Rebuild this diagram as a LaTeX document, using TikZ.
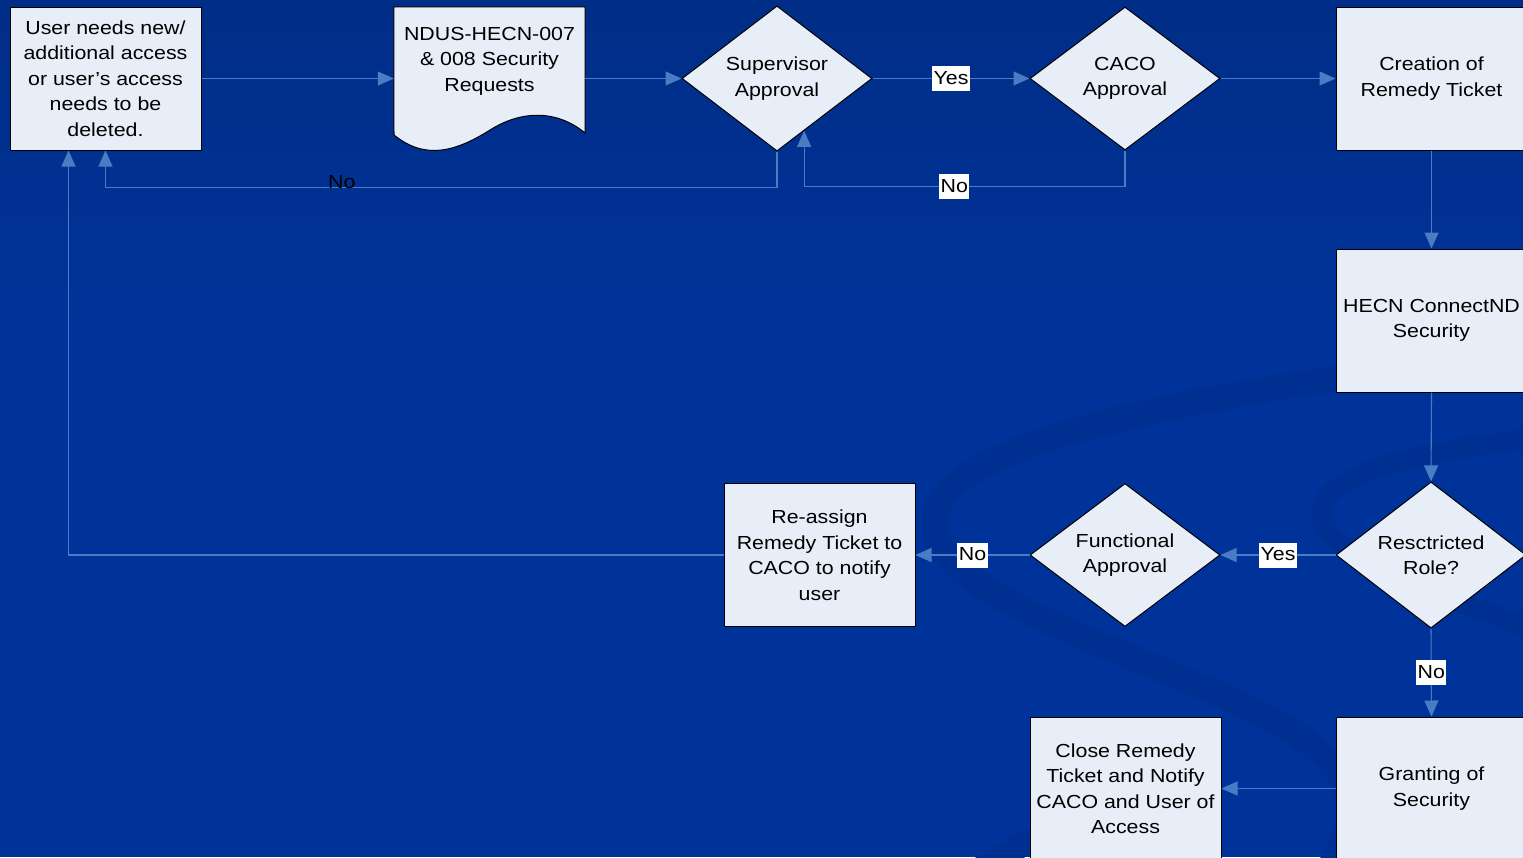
\documentclass[tikz,border=0pt]{standalone}
\usepackage{fontspec}
\setmainfont[FakeStretch=1.13]{Liberation Sans}
\usetikzlibrary{arrows.meta,shapes.geometric,calc}
\definecolor{bgblue}{RGB}{0,51,153}
\definecolor{bgtop}{RGB}{0,45,135}
\definecolor{swoosh}{RGB}{0,47,146}
\definecolor{boxfill}{RGB}{232,238,248}
\definecolor{linkblue}{RGB}{74,124,198}
\begin{document}
\begin{tikzpicture}[x=1pt,y=-1pt,
  every node/.style={font=\fontsize{18.9}{25.5}\selectfont},
  procbox/.style={draw=black,line width=1pt,fill=boxfill,minimum width=191pt,minimum height=143pt,inner sep=0pt,align=center},
  decision/.style={draw=black,line width=1pt,fill=boxfill,shape=diamond,minimum width=190pt,minimum height=143pt,inner sep=0pt,align=center},
  link/.style={draw=linkblue,line width=1.1pt,-{Triangle[length=16pt,width=14pt]}},
  tag/.style={fill=white,inner xsep=1.5pt,inner ysep=1pt,text height=17pt,text depth=6pt,text=black},
  plaintag/.style={inner sep=0pt,text=black},
]
\useasboundingbox (0,0) rectangle (1523,857);
\fill[bgblue] (0,0) rectangle (1523,857);
\shade[top color=bgtop,bottom color=bgblue] (0,0) rectangle (1523,330);
\clip (0,0) rectangle (1523,857);
% background swooshes
\draw[swoosh,line width=26pt] (1560,350) .. controls (1200,390) and (950,440) .. (935,515)
  .. controls (920,600) and (1150,650) .. (1290,730) .. controls (1370,780) and (1360,830) .. (1320,880);
\draw[swoosh,line width=20pt] (1560,435) .. controls (1420,450) and (1310,475) .. (1322,520)
  .. controls (1335,565) and (1460,600) .. (1560,640);
\draw[swoosh,line width=24pt] (960,880) .. controls (1050,830) and (1100,800) .. (1160,760);

% nodes
\node[procbox] (user) at (105.5,78.5) {User needs new/\\additional access\\or user’s access\\needs to be\\deleted.};
\node[minimum width=191pt,minimum height=143pt,inner sep=0pt] (doc) at (489.5,78.5) {};
\draw[fill=boxfill,line width=1pt] (doc.north west) -- (doc.north east) -- (585,133)
  .. controls (560,112) and (525,108) .. (490,130) .. controls (455,152) and (425,160) .. (394,135) -- cycle;
\node[align=center] (doctext) at (489.5,61) {NDUS-HECN-007\\\& 008 Security\\Requests};
\node[decision] (sup) at (777,78.5) {Supervisor\\Approval};
\node[decision] (caco) at (1125,78.5) {CACO\\Approval};
\node[procbox] (create) at (1431.5,78.5) {Creation of\\Remedy Ticket};
\node[procbox] (hecn) at (1431.5,320.5) {HECN ConnectND\\Security};
\node[decision] (restr) at (1431,555) {Resctricted\\Role?};
\node[decision] (func) at (1125,555) {Functional\\Approval};
\node[procbox] (reassign) at (819.5,555) {Re-assign\\Remedy Ticket to\\CACO to notify\\user};
\node[procbox] (grant) at (1431.5,788.5) {Granting of\\Security};
\node[procbox] (close) at (1125.5,788.5) {Close Remedy\\Ticket and Notify\\CACO and User of\\Access};

% connectors
\draw[link] (user.east) -- (doc.west);
\draw[link] (doc.east) -- (sup.west);
\draw[link] (sup.east) -- node[tag]{Yes} (caco.west);
\draw[link] (caco.east) -- (create.west);
\draw[link] (sup.south) -- ++(0,36) -| node[plaintag,pos=0.324,yshift=6pt]{No} (user.south);
\draw[link] (caco.south) -- ++(0,36) -| node[tag,pos=0.266]{No} ($(sup.south)!0.284!(sup.east)$);
\draw[link] (create.south) -- (hecn.north);
\draw[link] (hecn.south) -- (restr.north);
\draw[link] (restr.west) -- node[tag]{Yes} (func.east);
\draw[link] (func.west) -- node[tag]{No} (reassign.east);
\draw[link] (reassign.west) -| ([xshift=59pt]user.south west);
\draw[link] (restr.south) -- node[tag]{No} (grant.north);
\draw[link] (grant.west) -- (close.east);
\end{tikzpicture}
\end{document}
